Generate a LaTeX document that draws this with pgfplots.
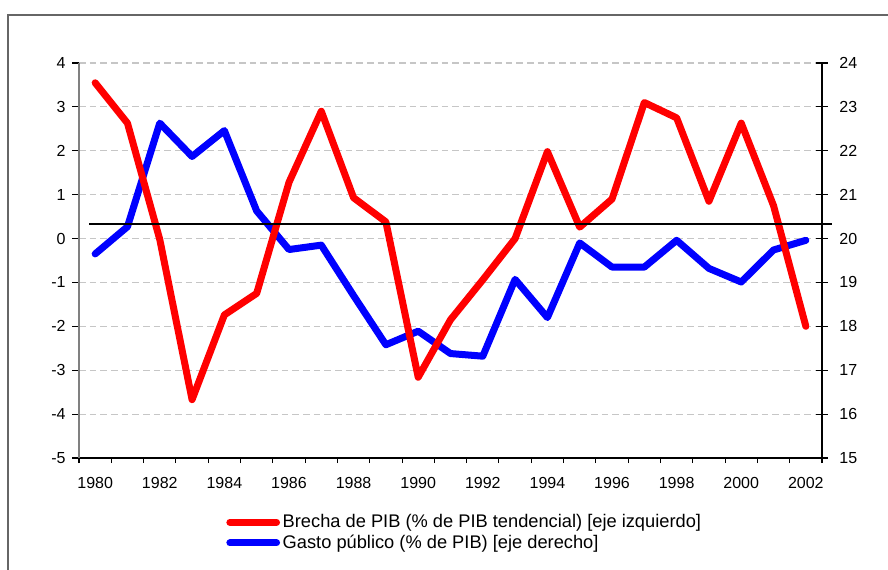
\documentclass[border=0pt]{standalone}
\usepackage{fontspec}
\setmainfont{Liberation Sans}
\usepackage{pgfplots}
\pgfplotsset{compat=1.18}
\pgfplotsset{
  common/.style={
    width=557.25pt, height=296.25pt, scale only axis,
    at={(0,0)}, anchor=south west,
    xmin=1979.5, xmax=2002.5,
  }
}
\begin{document}
\begin{tikzpicture}
\useasboundingbox (-59.25pt,-83.25pt) rectangle (606.75pt,343.5pt);
\draw[gray!80!black, line width=1pt] (-53.25pt,-150pt) -- (-53.25pt,332.25pt) -- (700pt,332.25pt);
% right axis: public spending
\begin{axis}[common,
  axis x line=none, axis y line*=right,
  ymin=15, ymax=24,
  ytick={15,16,17,18,19,20,21,22,23,24},
  yticklabels={15,16,17,18,19,20,21,22,23,24},
  tick align=center, major tick length=9pt,
  y axis line style={black, line width=0.8pt},
  y tick style={black, line width=0.8pt},
  ymajorgrids,
  major grid style={gray!45, line width=0.8pt, dash pattern=on 5pt off 3pt},
  yticklabel style={font=\fontsize{12}{14}\selectfont, anchor=west, xshift=5pt},
]
\addplot[blue, line width=5.25pt, line join=round, line cap=round] table {
x y
1980 19.65
1981 20.27
1982 22.63
1983 21.87
1984 22.46
1985 20.63
1986 19.75
1987 19.85
1988 18.70
1989 17.58
1990 17.89
1991 17.38
1992 17.32
1993 19.07
1994 18.20
1995 19.90
1996 19.35
1997 19.35
1998 19.96
1999 19.32
2000 19.01
2001 19.74
2002 19.96
};
\end{axis}
% left axis: output gap
\begin{axis}[common,
  axis x line*=bottom, axis y line*=left,
  ymin=-5, ymax=4,
  ytick={-5,-4,-3,-2,-1,0,1,2,3,4},
  yticklabels={-5,-4,-3,-2,-1,0,1,2,3,4},
  xtick={1980,1982,...,2002},
  xticklabels={1980,1982,1984,1986,1988,1990,1992,1994,1996,1998,2000,2002},
  minor xtick={1979.5,1980.5,...,2002.5},
  tick align=outside, major tick length=5pt, minor tick length=3.75pt,
  major x tick style={draw=none},
  minor x tick style={black, line width=0.8pt},
  y tick style={black, line width=0.8pt},
  y axis line style={gray, line width=0.8pt},
  x axis line style={black, line width=0.8pt},
  xticklabel style={font=\fontsize{12}{14}\selectfont, yshift=-6pt},
  yticklabel style={font=\fontsize{12}{14}\selectfont, xshift=-1.5pt},
  clip=false,
  legend style={at={(0.198,-0.136)}, anchor=north west, draw=none, fill=none,
    inner sep=0pt, font=\fontsize{13.7}{16}\selectfont,
    row sep=0pt,
    /tikz/every even column/.append style={column sep=0pt}},
  legend cell align=left,
  legend image code/.code={\draw[#1, line cap=round] (2.5pt,0pt) -- (37.5pt,0pt);},
]
\addplot[red, line width=5.25pt, line join=round, line cap=round] table {
x y
1980 3.55
1981 2.63
1982 -0.02
1983 -3.67
1984 -1.74
1985 -1.25
1986 1.28
1987 2.90
1988 0.93
1989 0.38
1990 -3.16
1991 -1.85
1992 -0.94
1993 0.00
1994 1.98
1995 0.26
1996 0.90
1997 3.10
1998 2.75
1999 0.85
2000 2.63
2001 0.75
2002 -2.00
};
\addlegendentry{Brecha de PIB (\% de PIB tendencial) [eje izquierdo]}
\addlegendimage{blue, line width=5.25pt}
\addlegendentry{Gasto público (\% de PIB) [eje derecho]}
\addplot[black, line width=1.5pt, forget plot] coordinates {(1979.81,0.326) (2002.81,0.326)};
\end{axis}
\end{tikzpicture}
\end{document}
